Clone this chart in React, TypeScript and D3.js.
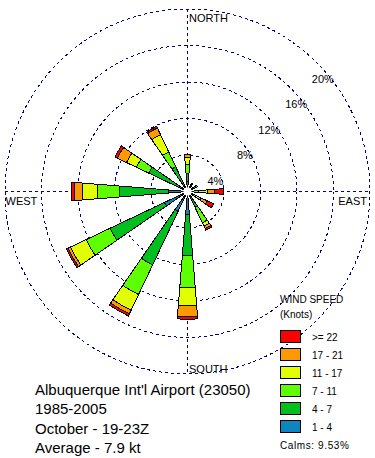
import React from 'react';
import * as d3 from 'd3';

// wind directions (degrees, clockwise from north)
const DIRECTIONS = [30, 60, 90, 120, 150, 180, 210, 240, 270, 300, 330, 360];

// percent frequency per speed class, one value per direction above
const SPD_1_4 = [0.5, 0.5, 0.4, 0.3, 0.6, 2.5, 2.4, 2.8, 2.1, 1.0, 0.8, 1.07];
const SPD_4_7 = [0.4, 0.5, 0.26, 0.3, 1.3, 4.57, 6.5, 6.6, 5.4, 3.7, 2.2, 0.93];
const SPD_7_11 = [0.1, 0.2, 0.58, 0.4, 1.9, 3.43, 3.6, 2.9, 2.4, 1.5, 1.8, 1.0];
const SPD_11_17 = [0, 0, 0.91, 0.65, 0.4, 2.0, 1.9, 1.9, 1.6, 1.2, 2.1, 0.75];
const SPD_17_21 = [0, 0, 0.85, 0.75, 0.3, 1.2, 0.45, 0.3, 0.9, 1.1, 0.8, 0.35];
const SPD_22 = [0, 0, 1.0, 0.75, 0.2, 0.3, 0.25, 0.2, 0.35, 0.3, 0.2, 0];

const SPEED_LABELS = ['1 - 4', '4 - 7', '7 - 11', '11 - 17', '17 - 21', '>= 22'];
const SPEED_COLORS = ['#0b86be', '#00c01e', '#5eff00', '#e1ff00', '#ff9900', '#ff0000'];
const SPEED_KEYS = ['s1', 's2', 's3', 's4', 's5', 's6'];

const RING_VALUES = [4, 8, 12, 16, 20];
const COMPASS = ['NORTH', 'EAST', 'SOUTH', 'WEST'];
const TITLE_LINES = [
  "Albuquerque Int'l Airport (23050)",
  '1985-2005',
  'October - 19-23Z',
  'Average - 7.9 kt'
];
const CALMS = 'Calms: 9.53%';

const FONT = '"Liberation Sans", Arial, sans-serif';
const W = 375;
const H = 458;
const cx = 187.5;
const cy = 191.5;
const R = 182.5;
const HALF = (4.6 * Math.PI) / 180;

const rows = DIRECTIONS.map((dir, i) => ({
  dir,
  s1: SPD_1_4[i],
  s2: SPD_4_7[i],
  s3: SPD_7_11[i],
  s4: SPD_11_17[i],
  s5: SPD_17_21[i],
  s6: SPD_22[i]
}));

export default function App() {
  const r = d3.scaleLinear().domain([0, 20]).range([0, R]);
  const stacked = d3.stack<any>().keys(SPEED_KEYS)(rows);

  const arc = d3.arc<any>()
    .innerRadius((d) => Math.max(4, r(d[0])))
    .outerRadius((d) => r(d[1]))
    .startAngle((d) => (d.data.dir * Math.PI) / 180 - HALF)
    .endAngle((d) => (d.data.dir * Math.PI) / 180 + HALF);

  const compassPos: Record<string, { x: number; y: number; anchor: string }> = {
    NORTH: { x: cx + 1.5, y: cy - R + 12.5, anchor: 'start' },
    SOUTH: { x: cx + 1.5, y: cy + R - 1, anchor: 'start' },
    WEST: { x: cx - R + 0.5, y: cy + 13.5, anchor: 'start' },
    EAST: { x: cx + R - 3, y: cy + 13.5, anchor: 'end' }
  };

  return (
    <svg width={W} height={H} style={{ position: 'absolute', left: 0, top: 0, background: '#fff' }} fontFamily={FONT}>
      <g transform={`translate(${cx},${cy})`}>
        <g shapeRendering="crispEdges" fill="none" stroke="#000080" strokeWidth={1} strokeDasharray="3,3">
          {RING_VALUES.map((v) => (
            <circle key={v} r={r(v)} />
          ))}
          <line x1={0} x2={0} y1={-R} y2={R} />
          <line x1={-R} x2={R} y1={0} y2={0} />
        </g>

        {stacked.map((layer, li) => (
          <g key={layer.key} fill={SPEED_COLORS[li]} stroke="#000" strokeWidth={1} shapeRendering="crispEdges">
            {layer
              .filter((d) => d[1] - d[0] > 0 && r(d[1]) > 4)
              .map((d) => (
                <path key={d.data.dir} d={arc(d) as string} />
              ))}
          </g>
        ))}
        <circle r={4} fill="#fff" />

        {RING_VALUES.map((v, i) => {
          const dy = -(7 + 25.5 * i);
          const dx = Math.sqrt(r(v) * r(v) - dy * dy);
          return (
            <text key={v} x={dx} y={dy} textAnchor="end" fontSize={11} fill="#000">
              {v}%
            </text>
          );
        })}
      </g>

      {COMPASS.map((c) => (
        <text key={c} x={compassPos[c].x} y={compassPos[c].y} textAnchor={compassPos[c].anchor} fontSize={11} fill="#000">
          {c}
        </text>
      ))}

      <text x={280} y={303} fontSize={10} fill="#000">WIND SPEED</text>
      <text x={280} y={318} fontSize={10} fill="#000">(Knots)</text>
      {SPEED_LABELS.slice().reverse().map((lab, i) => {
        const y = 330.5 + Math.round(i * 17.9);
        return (
          <g key={lab}>
            <rect x={280.5} y={y} width={20} height={12} fill={SPEED_COLORS[SPEED_COLORS.length - 1 - i]} stroke="#000" shapeRendering="crispEdges" />
            <text x={312} y={y + 10} fontSize={10} fill="#000">{lab}</text>
          </g>
        );
      })}
      <text x={280} y={449} fontSize={10} letterSpacing={0.6} fill="#000">{CALMS}</text>

      {TITLE_LINES.map((t, i) => (
        <text key={t} x={35} y={394.5 + i * 19.5} fontSize={15} fill="#000">{t}</text>
      ))}
    </svg>
  );
}
